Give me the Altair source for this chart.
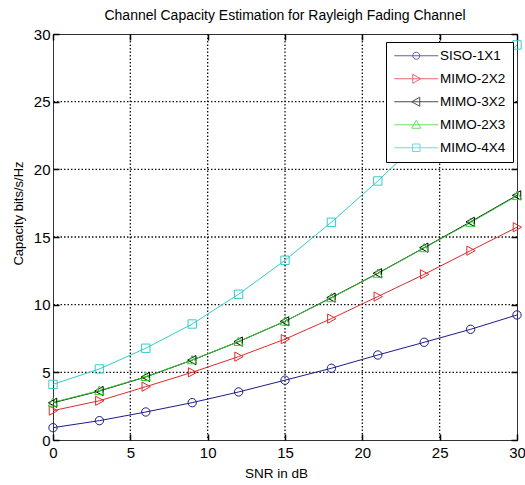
import altair as alt
import pandas as pd

# ---- data ----
snr_db = [0, 3, 6, 9, 12, 15, 18, 21, 24, 27, 30]
siso_1x1 = [0.91, 1.43, 2.07, 2.76, 3.55, 4.42, 5.30, 6.28, 7.22, 8.18, 9.24]
mimo_2x2 = [2.17, 2.90, 3.94, 5.00, 6.16, 7.45, 8.97, 10.60, 12.24, 13.99, 15.72]
mimo_3x2 = [2.75, 3.62, 4.66, 5.90, 7.27, 8.77, 10.52, 12.32, 14.21, 16.12, 18.08]
mimo_2x3 = [2.78, 3.65, 4.68, 5.91, 7.27, 8.77, 10.50, 12.30, 14.19, 16.07, 18.04]
mimo_4x4 = [4.11, 5.25, 6.78, 8.57, 10.77, 13.28, 16.09, 19.14, 22.40, 25.80, 29.19]

series_names = ["SISO-1X1", "MIMO-2X2", "MIMO-3X2", "MIMO-2X3", "MIMO-4X4"]
series_values = [siso_1x1, mimo_2x2, mimo_3x2, mimo_2x3, mimo_4x4]
series_colors = ["#1c1c8a", "#dd2a2a", "#000000", "#33cc33", "#33cccc"]

axis_ticks = [0, 5, 10, 15, 20, 25, 30]
grid_values = [5, 10, 15, 20, 25]

# marker shapes (unit box) for the plot
marker_paths = [
    "M 1,0 A 1,1 0 1,1 -1,0 A 1,1 0 1,1 1,0 Z",
    "M -0.9,-1.1 L 1.1,0 L -0.9,1.1 Z",
    "M 0.9,-1.1 L -1.1,0 L 0.9,1.1 Z",
    "M -1.1,0.9 L 0,-1.1 L 1.1,0.9 Z",
    "M -1,-1 L 1,-1 L 1,1 L -1,1 Z",
]
# legend symbols: line with marker on it
legend_paths = [
    "M -4.4,0 L 4.4,0 M 0.7,0 A 0.7,0.7 0 1,1 -0.7,0 A 0.7,0.7 0 1,1 0.7,0 Z",
    "M -4.4,0 L 4.4,0 M -0.7,-0.9 L 0.9,0 L -0.7,0.9 Z",
    "M -4.4,0 L 4.4,0 M 0.7,-0.9 L -0.9,0 L 0.7,0.9 Z",
    "M -4.4,0 L 4.4,0 M -0.9,0.7 L 0,-0.9 L 0.9,0.7 Z",
    "M -4.4,0 L 4.4,0 M -0.75,-0.75 L 0.75,-0.75 L 0.75,0.75 L -0.75,0.75 Z",
]

rows = []
for name, vals in zip(series_names, series_values):
    for s, v in zip(snr_db, vals):
        rows.append({"SNR": s, "Capacity": v, "Scheme": name})
df = pd.DataFrame(rows)
grid_df = pd.DataFrame({"g": grid_values})

TICK_FONT = "Liberation Sans Narrow, Liberation Sans, Arial"
TEXT_FONT = "Liberation Sans, Arial"

x_scale = alt.Scale(domain=[0, 30], nice=False, zero=False)
y_scale = alt.Scale(domain=[0, 30], nice=False, zero=False)

TICKS = dict(values=axis_ticks, labels=False, domain=False, grid=False, ticks=True,
             tickSize=6, tickColor="black", tickWidth=1.5, title=None, offset=-6)


def color_enc(legend):
    return alt.Color("Scheme:N", scale=alt.Scale(domain=series_names, range=series_colors),
                     legend=legend)


# dotted grid (MATLAB style) drawn from the tick values through the scales
GRID_STYLE = dict(strokeDash=[1.5, 2], color="#111111", strokeWidth=1.3, opacity=1)
grid_x = alt.Chart(grid_df).mark_rule(**GRID_STYLE).encode(
    x=alt.X("g:Q", scale=x_scale, axis=None))
grid_y = alt.Chart(grid_df).mark_rule(**GRID_STYLE).encode(
    y=alt.Y("g:Q", scale=y_scale, axis=None))

lines = alt.Chart(df).mark_line(strokeWidth=1).encode(
    x=alt.X("SNR:Q", scale=x_scale, axis=alt.Axis(
        title="SNR in dB", values=axis_ticks, grid=False, ticks=False,
        domain=False, labelPadding=5, labelFont=TICK_FONT, labelFontSize=15,
        labelFlush=False, labelColor="#000",
        titleFont=TICK_FONT, titleFontSize=13.5, titleFontWeight="normal",
        titleColor="#000", titleX=223, titleY=37, titleBaseline="alphabetic")),
    y=alt.Y("Capacity:Q", scale=y_scale, axis=alt.Axis(
        title="Capacity bits/s/Hz", values=axis_ticks, grid=False, ticks=False,
        domain=False, labelPadding=3, labelFont=TICK_FONT, labelFontSize=15,
        labelColor="#000",
        titleFont=TEXT_FONT, titleFontSize=13, titleFontWeight="normal",
        titleColor="#000", titleX=-35, titleY=179, titleBaseline="middle")),
    color=color_enc(None),
)

markers = alt.Chart(df).mark_point(filled=False, size=70, strokeWidth=1, opacity=1).encode(
    x=alt.X("SNR:Q", scale=x_scale, axis=alt.Axis(orient="bottom", **TICKS)),
    y=alt.Y("Capacity:Q", scale=y_scale, axis=alt.Axis(orient="left", **TICKS)),
    color=color_enc(None),
    shape=alt.Shape("Scheme:N", scale=alt.Scale(domain=series_names, range=marker_paths),
                    legend=None),
)

leg = alt.Legend(title=None, orient="none", legendX=333, legendY=8)
legend_layer = alt.Chart(df).mark_point(filled=False, size=0, strokeWidth=1).encode(
    x=alt.X("SNR:Q", scale=x_scale, axis=alt.Axis(orient="top", **TICKS)),
    y=alt.Y("Capacity:Q", scale=y_scale, axis=alt.Axis(orient="right", **TICKS)),
    color=color_enc(leg),
    shape=alt.Shape("Scheme:N", scale=alt.Scale(domain=series_names, range=legend_paths),
                    legend=leg),
)

chart = alt.layer(grid_x, grid_y, lines, markers, legend_layer).resolve_scale(
    color="independent", shape="independent"
).resolve_axis(
    x="independent", y="independent"
).properties(
    width=464, height=406,
    padding={"left": 53, "top": 34, "right": 8, "bottom": 45},
    autosize=alt.AutoSizeParams(type="none"),
    title=alt.TitleParams(
        "Channel Capacity Estimation for Rayleigh Fading Channel",
        font=TEXT_FONT, fontSize=14, fontWeight="normal", color="#000",
        anchor="middle", offset=4),
).configure_view(
    stroke="#333333", strokeWidth=1
).configure_legend(
    strokeColor="#000", fillColor="#ffffff", padding=7, cornerRadius=0,
    labelFont=TEXT_FONT, labelFontSize=13.5, labelColor="#000",
    symbolSize=100, symbolStrokeWidth=1, symbolOffset=16.5, labelOffset=17,
    rowPadding=8,
)

chart.save("out.html", embed_options={"renderer": "svg", "actions": False})
